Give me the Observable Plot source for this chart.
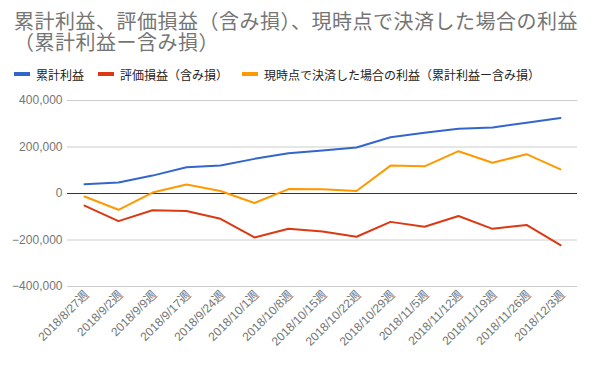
<!DOCTYPE html>
<html><head><meta charset="utf-8">
<script src="https://cdn.jsdelivr.net/npm/d3@7"></script>
<script src="https://cdn.jsdelivr.net/npm/@observablehq/plot@0.6"></script>
<style>
body{margin:0;background:#fff;font-family:"Liberation Sans","Noto Sans CJK JP",sans-serif;}
#wrap{position:relative;width:592px;height:370px;}
#title{position:absolute;left:14px;top:12px;font-size:20px;line-height:21px;color:#757575;white-space:nowrap;letter-spacing:0.5px;}
#legend{position:absolute;left:14px;top:66px;font-size:12px;color:#222;white-space:nowrap;}
.item{position:absolute;top:0;display:flex;align-items:center;height:16px;}
.sw{width:16px;height:4px;margin-right:6px;}
#chart{position:absolute;left:0;top:85px;}
</style></head>
<body><div id="wrap">
<div id="title">累計利益、評価損益（含み損）、現時点で決済した場合の利益<br>（累計利益ー含み損）</div>
<div id="legend"></div>
<div id="chart"></div>
</div>
<script>
const weeks = ["2018/8/27週","2018/9/2週","2018/9/9週","2018/9/17週","2018/9/24週","2018/10/1週","2018/10/8週","2018/10/15週","2018/10/22週","2018/10/29週","2018/11/5週","2018/11/12週","2018/11/19週","2018/11/26週","2018/12/3週"];
const cumulative = [40000,47000,77000,113000,120000,149000,173000,185000,198000,242000,261000,278000,284000,304000,325000];
const unrealized = [-52000,-119000,-72000,-75000,-109000,-189000,-152000,-163000,-186000,-122000,-143000,-97000,-152000,-135000,-222000];
const settled = [-13000,-70000,4000,39000,11000,-41000,19000,18000,11000,120000,117000,182000,132000,169000,104000];
const seriesNames = ["累計利益","評価損益（含み損）","現時点で決済した場合の利益（累計利益ー含み損）"];
const colors = ["#3366cc","#dc3912","#ff9900"];
const yTicks = [-400000,-200000,0,200000,400000];

const legendX = [0, 84, 228];
const lg = document.getElementById("legend");
seriesNames.forEach((n,i)=>{
  const d = document.createElement("div");
  d.className="item"; d.style.left = legendX[i]+"px";
  d.innerHTML = `<span class="sw" style="background:${colors[i]}"></span><span>${n}</span>`;
  lg.appendChild(d);
});

const data = [];
[cumulative, unrealized, settled].forEach((arr,s)=>arr.forEach((v,i)=>data.push({week:weeks[i], value:v, series:seriesNames[s]})));

const fmt = d3.format(",");
const chart = Plot.plot({
  width:592, height:285,
  marginTop:15, marginBottom:84, marginLeft:67, marginRight:15,
  style:{fontFamily:'"Liberation Sans","Noto Sans CJK JP",sans-serif', fontSize:"12px", color:"#757575", background:"#fff"},
  x:{type:"point", domain:weeks, padding:0.5, axis:null},
  y:{domain:[-400000,400000], axis:null},
  color:{domain:seriesNames, range:colors},
  marks:[
    Plot.ruleY(yTicks.filter(d=>d!==0), {stroke:"#cccccc", strokeWidth:1}),
    Plot.text(yTicks, {x:null, y:d=>d, frameAnchor:"left", text:d=>fmt(d), textAnchor:"end", dx:-5, fill:"#757575", fontSize:12}),
    Plot.ruleY([0], {stroke:"#333333", strokeWidth:1}),
    Plot.line(data, {x:"week", y:"value", stroke:"series", strokeWidth:2, curve:"linear"}),
    Plot.text(weeks, {x:d=>d, frameAnchor:"bottom", text:d=>d, rotate:-45, textAnchor:"end", dx:5, dy:9, fill:"#757575", fontSize:12})
  ]
});
document.getElementById("chart").appendChild(chart);
</script></body></html>
